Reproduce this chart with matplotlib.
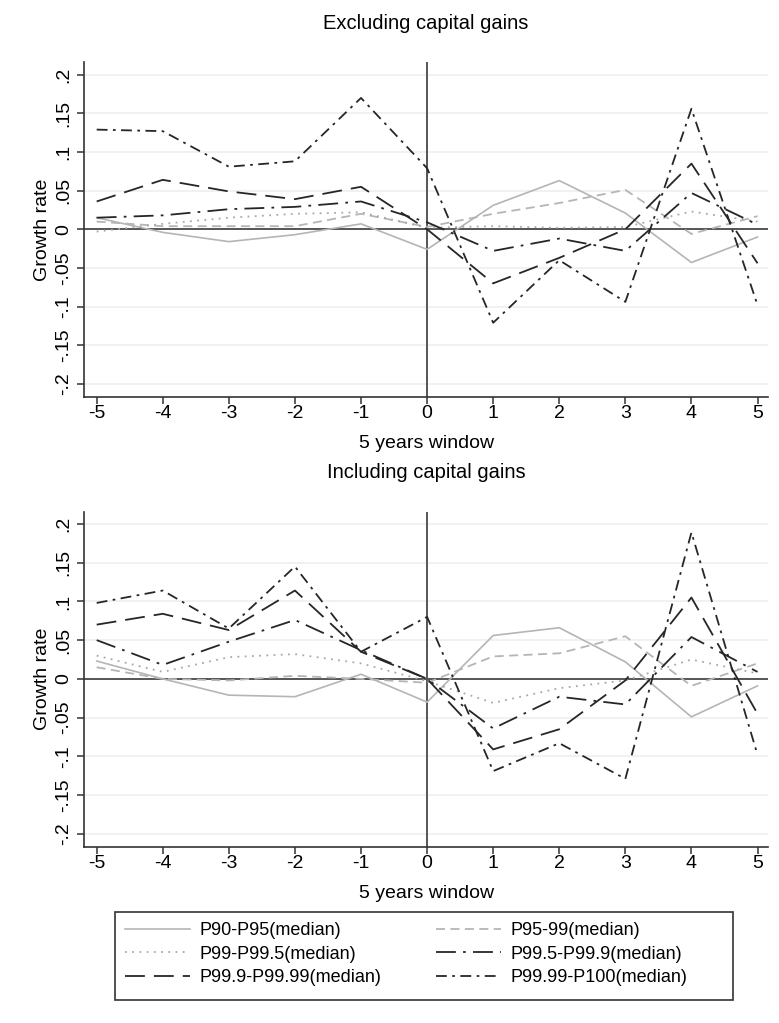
import matplotlib
matplotlib.use("Agg")
import matplotlib.pyplot as plt
from matplotlib.lines import Line2D
from matplotlib.patches import Rectangle
import numpy as np

plt.rcParams['font.family'] = ['Liberation Sans', 'DejaVu Sans']

# 5 years window
window = [-5, -4, -3, -2, -1, 0, 1, 2, 3, 4, 5]

series_names = ["P90-P95(median)", "P95-99(median)", "P99-P99.5(median)",
                "P99.5-P99.9(median)", "P99.9-P99.99(median)", "P99.99-P100(median)"]

# Excluding capital gains
p90_95_ex = [0.015, -0.004, -0.016, -0.007, 0.007, -0.026, 0.031, 0.063, 0.021, -0.043, -0.010]
p95_99_ex = [0.010, 0.004, 0.004, 0.004, 0.020, 0.003, 0.020, 0.034, 0.051, -0.006, 0.017]
p99_995_ex = [-0.003, 0.007, 0.015, 0.020, 0.022, 0.002, 0.004, 0.002, 0.003, 0.023, 0.010]
p995_999_ex = [0.015, 0.018, 0.026, 0.029, 0.036, 0.009, -0.028, -0.012, -0.028, 0.047, 0.006]
p999_9999_ex = [0.036, 0.064, 0.049, 0.039, 0.055, 0.000, -0.070, -0.037, 0.000, 0.085, -0.044]
p9999_100_ex = [0.129, 0.127, 0.081, 0.088, 0.170, 0.079, -0.121, -0.040, -0.094, 0.156, -0.098]

# Including capital gains
p90_95_in = [0.023, 0.000, -0.021, -0.023, 0.006, -0.030, 0.056, 0.066, 0.022, -0.049, -0.009]
p95_99_in = [0.015, 0.000, -0.002, 0.004, 0.000, -0.005, 0.029, 0.033, 0.055, -0.009, 0.020]
p99_995_in = [0.030, 0.009, 0.028, 0.032, 0.020, -0.003, -0.031, -0.012, -0.002, 0.025, 0.007]
p995_999_in = [0.050, 0.018, 0.048, 0.076, 0.037, 0.000, -0.064, -0.023, -0.033, 0.054, 0.009]
p999_9999_in = [0.070, 0.084, 0.063, 0.114, 0.035, 0.000, -0.091, -0.065, -0.002, 0.105, -0.045]
p9999_100_in = [0.098, 0.114, 0.065, 0.145, 0.035, 0.080, -0.119, -0.083, -0.129, 0.189, -0.098]

y_ticks = [-0.2, -0.15, -0.1, -0.05, 0, 0.05, 0.1, 0.15, 0.2]
y_ticklabels = ["-.2", "-.15", "-.1", "-.05", "0", ".05", ".1", ".15", ".2"]

light = "#b5b5b5"
dark = "#262626"
styles = [
    dict(color=light, linestyle="-", lw=1.2),
    dict(color=light, linestyle=(0, (5, 3)), lw=1.3),
    dict(color="#a8a8a8", linestyle=(0, (1, 3)), lw=1.3),
    dict(color=dark, linestyle=(0, (11, 4, 1.5, 4)), lw=1.3),
    dict(color=dark, linestyle=(0, (11, 5)), lw=1.3),
    dict(color=dark, linestyle=(0, (6, 3, 1.5, 3)), lw=1.3),
]


def draw_panel(ax, data, title):
    for vals, st in zip(data, styles):
        ax.plot(window, vals, **st, zorder=3)
    ax.axhline(0, color="#555555", lw=1.4, zorder=2)
    ax.axvline(0, color="#555555", lw=1.4, zorder=2)
    ax.set_xlim(-5.19, 5.16)
    ax.set_ylim(-0.217, 0.216)
    ax.set_yticks(y_ticks)
    ax.set_yticklabels(y_ticklabels, rotation=90, va="center")
    ax.set_xticks(window)
    ax.set_xticklabels([str(v) for v in window])
    ax.grid(axis="y", color="#efefef", lw=1.2, zorder=0)
    ax.set_axisbelow(True)
    for s in ["top", "right"]:
        ax.spines[s].set_visible(False)
    for s in ["left", "bottom"]:
        ax.spines[s].set_color("#333333")
        ax.spines[s].set_linewidth(1.2)
    ax.tick_params(direction="out", length=5, width=1.1, colors="#333333",
                   labelcolor="black", labelsize=14)
    ax.tick_params(axis="x", pad=1)
    ax.set_xlabel("5 years window", fontsize=14, labelpad=9)
    ax.set_ylabel("Growth rate", fontsize=14, labelpad=3)
    ax.set_title(title, fontsize=14.5, pad=24)


fig = plt.figure(figsize=(7.79, 10.23), dpi=100)
ax1 = fig.add_axes([0.108, 0.612, 0.878, 0.327])
ax2 = fig.add_axes([0.108, 0.172, 0.878, 0.328])

draw_panel(ax1, [p90_95_ex, p95_99_ex, p99_995_ex, p995_999_ex, p999_9999_ex, p9999_100_ex],
           "Excluding capital gains")
draw_panel(ax2, [p90_95_in, p95_99_in, p99_995_in, p995_999_in, p999_9999_in, p9999_100_in],
           "Including capital gains")

# legend is filled row by row in the reference
order = [0, 2, 4, 1, 3, 5]
handles = [Line2D([], [], **styles[i]) for i in order]
labels = [series_names[i] for i in order]
fig.patches.append(Rectangle((0.148, 0.0225), 0.793, 0.086, transform=fig.transFigure,
                             fill=False, edgecolor="#333333", lw=1.2))
fig.legend(handles, labels, loc="center left", bbox_to_anchor=(0.140, 0.0672),
           ncol=2, frameon=False, fontsize=13, handlelength=3.6,
           columnspacing=3.05, labelspacing=0.36, handletextpad=0.5)

fig.savefig("out.png", dpi=100, facecolor="white")
